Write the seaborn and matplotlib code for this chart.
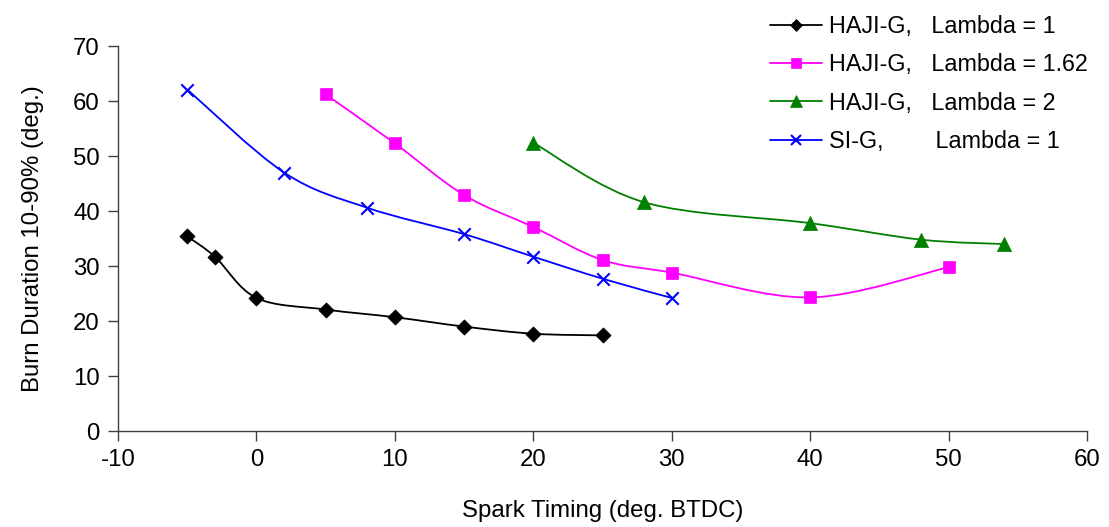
import numpy as np
import pandas as pd
import matplotlib
matplotlib.use("Agg")
import matplotlib.pyplot as plt
import seaborn as sns
from matplotlib.path import Path
from matplotlib.patches import PathPatch
from matplotlib.lines import Line2D

# ---- data ----
haji1_x = [-5, -3, 0, 5, 10, 15, 20, 25]
haji1_y = [35.4, 31.7, 24.2, 22.1, 20.7, 19.0, 17.7, 17.4]
haji162_x = [5, 10, 15, 20, 25, 30, 40, 50]
haji162_y = [61.2, 52.3, 42.9, 37.1, 31.1, 28.8, 24.3, 29.8]
haji2_x = [20, 28, 40, 48, 54]
haji2_y = [52.4, 41.6, 37.8, 34.8, 34.0]
sig_x = [-5, 2, 8, 15, 20, 25, 30]
sig_y = [62.1, 47.0, 40.6, 35.8, 31.7, 27.7, 24.2]
labels = ["HAJI-G,   Lambda = 1",
          "HAJI-G,   Lambda = 1.62",
          "HAJI-G,   Lambda = 2",
          "SI-G,        Lambda = 1"]
x_ticks = [-10, 0, 10, 20, 30, 40, 50, 60]
y_ticks = [0, 10, 20, 30, 40, 50, 60, 70]

sns.set_theme(style="white")
plt.rcParams["font.family"] = ["Liberation Sans", "DejaVu Sans"]
plt.rcParams["axes.unicode_minus"] = False
plt.rcParams["text.color"] = "black"
plt.rcParams["axes.labelcolor"] = "black"
plt.rcParams["xtick.color"] = "black"
plt.rcParams["ytick.color"] = "black"

fig = plt.figure(figsize=(11.09, 5.27), dpi=100)
ax = fig.add_axes([0.1064, 0.182, 0.874, 0.7306])

styles = [
    dict(color="black", marker="D", s=60),
    dict(color="#FF00FF", marker="s", s=75),
    dict(color="#008000", marker="^", s=105),
    dict(color="#0000FF", marker="x", s=80),
]
series = [(haji1_x, haji1_y), (haji162_x, haji162_y), (haji2_x, haji2_y), (sig_x, sig_y)]


def smooth_path(xs, ys):
    pts = np.column_stack([xs, ys]).astype(float)
    n = len(pts)
    verts = [pts[0]]
    codes = [Path.MOVETO]
    for i in range(n - 1):
        p0 = pts[i - 1] if i > 0 else pts[i]
        p1 = pts[i]
        p2 = pts[i + 1]
        p3 = pts[i + 2] if i + 2 < n else pts[i + 1]
        c1 = p1 + (p2 - p0) / 6.0
        c2 = p2 - (p3 - p1) / 6.0
        verts += [c1, c2, p2]
        codes += [Path.CURVE4] * 3
    return Path(verts, codes)


handles = []
for (xs, ys), st, lab in zip(series, styles, labels):
    patch = PathPatch(smooth_path(xs, ys), facecolor="none", edgecolor=st["color"],
                      lw=1.3, zorder=2)
    ax.add_patch(patch)
    df = pd.DataFrame({"x": xs, "y": ys})
    if st["marker"] == "x":
        sns.scatterplot(data=df, x="x", y="y", ax=ax, marker="x", s=st["s"],
                        color=st["color"], linewidth=1.5, zorder=3, legend=False)
    else:
        sns.scatterplot(data=df, x="x", y="y", ax=ax, marker=st["marker"], s=st["s"],
                        color=st["color"], edgecolor=st["color"], linewidth=0.5,
                        zorder=3, legend=False)
    handles.append(Line2D([], [], color=st["color"], lw=1.3, marker=st["marker"],
                          markersize=np.sqrt(st["s"]) * 0.85,
                          markeredgewidth=1.5 if st["marker"] == "x" else 0.5,
                          label=lab))

ax.set_xlim(-10, 60)
ax.set_ylim(0, 70)
ax.set_xticks(x_ticks)
ax.set_yticks(y_ticks)
ax.tick_params(axis="both", which="major", labelsize=17.3, direction="out",
               length=7, width=1, color="#404040", labelcolor="black",
               left=True, bottom=True, pad=6)
for side in ["top", "right"]:
    ax.spines[side].set_visible(False)
for side in ["left", "bottom"]:
    ax.spines[side].set_color("#404040")
    ax.spines[side].set_linewidth(1)
ax.grid(False)
ax.set_xlabel("Spark Timing (deg. BTDC)", fontsize=17.3, labelpad=21, color="black")
ax.set_ylabel("Burn Duration 10-90% (deg.)", fontsize=17.3, labelpad=21, color="black")

leg = fig.legend(handles=handles, loc="upper left", bbox_to_anchor=(0.6755, 1.011),
                 frameon=False, fontsize=16.8, handlelength=2.23, handletextpad=0.3,
                 labelspacing=0.65)
for t in leg.get_texts():
    t.set_color("black")

fig.savefig("out.png", dpi=100)
